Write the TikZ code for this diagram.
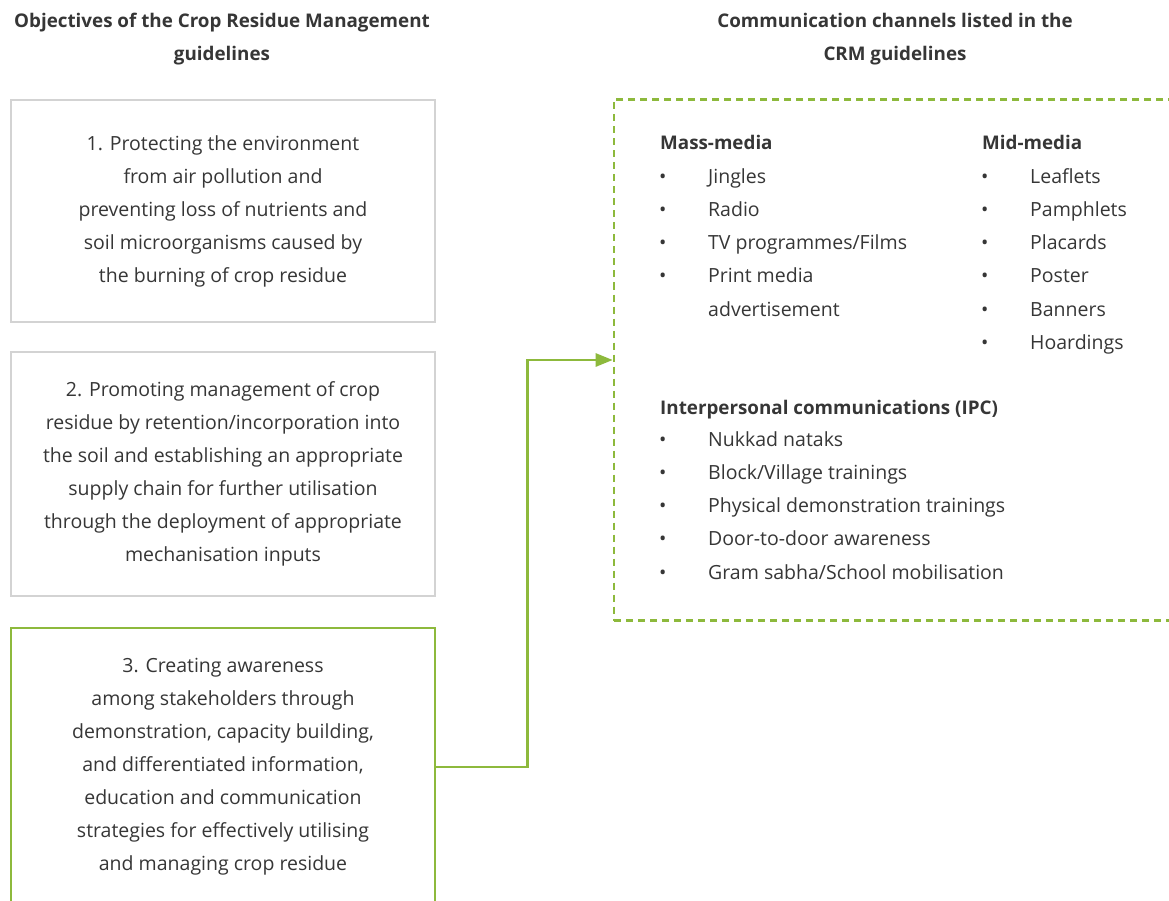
\documentclass[tikz,border=0pt]{standalone}
\usepackage{fontspec}
\setmainfont{Open Sans}
\usepackage{xcolor}
\usetikzlibrary{arrows.meta}
\definecolor{mygreen}{RGB}{141,185,60}
\definecolor{mygray}{RGB}{211,211,211}
\definecolor{mytext}{RGB}{54,54,54}

\tikzset{
  head/.style={align=center,font=\fontsize{18.8}{33}\selectfont\bfseries,text=mytext},
  objbox/.style={draw=mygray,line width=2.6pt,minimum width=424,align=center,
    font=\fontsize{19.5}{33}\selectfont,text=mytext},
  keybox/.style={objbox,draw=mygreen},
  chanbox/.style={draw=mygreen,line width=2.6pt,dashed,dash pattern=on 7pt off 5pt},
  sub/.style={anchor=base west,inner sep=0,font=\fontsize{18.8}{33}\selectfont\bfseries,text=mytext},
  item/.style={anchor=base west,inner sep=0,font=\fontsize{19.5}{33}\selectfont,text=mytext},
  link/.style={draw=mygreen,line width=2.6pt,-{Triangle[length=17pt,width=13pt]}}
}
\newcommand\bul{\makebox[49pt][l]{\textbullet}}

\begin{document}
\begin{tikzpicture}[x=1pt,y=-1pt]
\useasboundingbox[fill=white] (0,0) rectangle (1169,901);

% column titles
\node[head] (objhead) at (222,39) {Objectives of the Crop Residue Management\\guidelines};
\node[head] (chanhead) at (895,39) {Communication channels listed in the\\CRM guidelines};

% the three objectives
\node[objbox,minimum height=222] (obj1) at (223,211) {1. Protecting the environment\\from air pollution and\\preventing loss of nutrients and\\soil microorganisms caused by\\the burning of crop residue};
\node[objbox,minimum height=244] (obj2) at (223,474) {2. Promoting management of crop\\residue by retention/incorporation into\\the soil and establishing an appropriate\\supply chain for further utilisation\\through the deployment of appropriate\\mechanisation inputs};
\node[keybox,minimum height=278] (obj3) at (223,767) {3. Creating awareness\\among stakeholders through\\demonstration, capacity building,\\and differentiated information,\\education and communication\\strategies for effectively utilising\\and managing crop residue};

% channels
\node[chanbox,minimum width=620,minimum height=521] (channels) at (924,360) {};

\node[sub] (mass) at (660,150) {Mass-media};
\node[item] (mass1) at (659,184) {\bul Jingles};
\node[item] (mass2) at (659,217) {\bul Radio};
\node[item] (mass3) at (659,250) {\bul TV programmes/Films};
\node[item] (mass4) at (659,283) {\bul Print media};
\node[item] (mass5) at (708,316) {advertisement};

\node[sub] (mid) at (982,150) {Mid-media};
\node[item] (mid1) at (981,184) {\bul Leaflets};
\node[item] (mid2) at (981,217) {\bul Pamphlets};
\node[item] (mid3) at (981,250) {\bul Placards};
\node[item] (mid4) at (981,283) {\bul Poster};
\node[item] (mid5) at (981,316) {\bul Banners};
\node[item] (mid6) at (981,349) {\bul Hoardings};

\node[sub] (ipc) at (660,414) {Interpersonal communications (IPC)};
\node[item] (ipc1) at (659,446) {\bul Nukkad nataks};
\node[item] (ipc2) at (659,479) {\bul Block/Village trainings};
\node[item] (ipc3) at (659,512) {\bul Physical demonstration trainings};
\node[item] (ipc4) at (659,545) {\bul Door-to-door awareness};
\node[item] (ipc5) at (659,579) {\bul Gram sabha/School mobilisation};

\draw[link] (obj3.east) -- ++(91,0) |- (channels.west);
\end{tikzpicture}
\end{document}
